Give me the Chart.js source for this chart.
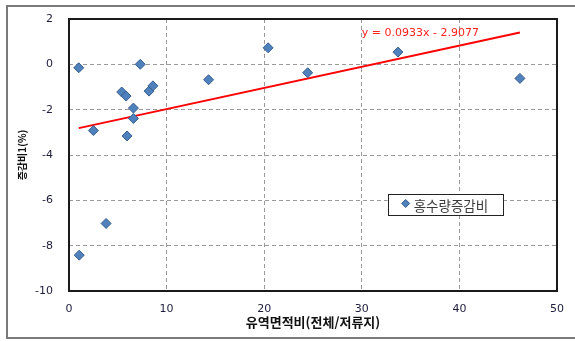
<!DOCTYPE html>
<html>
<head>
<meta charset="utf-8">
<script src="https://cdn.jsdelivr.net/npm/chart.js@4/dist/chart.umd.min.js"></script>
<style>
  html, body { margin: 0; padding: 0; background: #fff; overflow: hidden; }
  #wrap { position: relative; width: 575px; height: 341px; }
  #frame { position: absolute; left: 6px; top: 5px; width: 600px; height: 330px; border: 2px solid #7a7a7a; }
  #c { position: absolute; left: 0; top: 0; }
</style>
</head>
<body>
<div id="wrap">
  <div id="frame"></div>
  <canvas id="c" width="575" height="341"></canvas>
</div>
<script>
// Basin area ratio (whole / reservoir) and flood discharge change ratio (%)
const areaRatio   = [1.0, 7.3, 5.4, 5.85, 8.2, 8.6, 6.6, 6.6, 2.5, 5.95, 3.8, 1.05, 20.4, 14.3, 24.45, 33.7, 46.2];
const floodChange = [-0.15, 0.0, -1.22, -1.40, -1.18, -0.95, -1.93, -2.39, -2.92, -3.16, -7.02, -8.42, 0.73, -0.68, -0.37, 0.54, -0.62];

const xTicks = [0, 10, 20, 30, 40, 50];
const yTicks = [-10, -8, -6, -4, -2, 0, 2];

// Linear trend y = a x + b
const trendSlope = 0.0933;
const trendIntercept = -2.9077;
const trendLabel = 'y = 0.0933x - 2.9077';

const seriesName = '홍수량증감비';
const xTitle = '유역면적비(전체/저류지)';
const yTitle = '증감비1(%)';

const xMinData = Math.min(...areaRatio);
const xMaxData = Math.max(...areaRatio);
const trendPoints = [xMinData, xMaxData].map(x => ({ x, y: trendSlope * x + trendIntercept }));

const MARK_FILL = '#4F81BD';
const MARK_EDGE = '#385D8A';
const TICK_FONT = { family: 'DejaVu Sans', size: 11 };
const TICK_COLOR = '#1c1c3c';
const GRID_COLOR = '#9a9a9a';

// Fixed axis box sizes, no extra label overhang padding
function fixBox(s, size) {
  if (s.isHorizontal()) s.height = size; else s.width = size;
  s.paddingTop = 0; s.paddingBottom = 0; s.paddingLeft = 0; s.paddingRight = 0;
}

// Black frame around the plotting area
const plotFrame = {
  id: 'plotFrame',
  beforeDatasetsDraw(chart) {
    const { ctx, chartArea: a } = chart;
    ctx.save();
    ctx.strokeStyle = '#1a1a1a';
    ctx.lineWidth = 2;
    ctx.strokeRect(a.left, a.top, a.right - a.left, a.bottom - a.top);
    ctx.restore();
  }
};

// Trend equation text and the boxed legend inside the plot
const annotations = {
  id: 'annotations',
  afterDatasetsDraw(chart) {
    const { ctx, scales } = chart;
    ctx.save();
    ctx.font = '11px "DejaVu Sans"';
    ctx.fillStyle = '#ff2020';
    ctx.textAlign = 'left';
    ctx.textBaseline = 'middle';
    ctx.fillText(trendLabel, scales.x.getPixelForValue(30.0), scales.y.getPixelForValue(1.36));

    const lx = scales.x.getPixelForValue(32.65);
    const ly = scales.y.getPixelForValue(-5.72);
    const lw = 115, lh = 21;
    ctx.fillStyle = '#fff';
    ctx.fillRect(lx, ly, lw, lh);
    ctx.strokeStyle = '#222';
    ctx.lineWidth = 1;
    ctx.strokeRect(Math.round(lx) + 0.5, Math.round(ly) + 0.5, lw, lh);
    const mx = lx + 18, my = ly + 9.5, r = 4;
    ctx.beginPath();
    ctx.moveTo(mx, my - r); ctx.lineTo(mx + r, my); ctx.lineTo(mx, my + r); ctx.lineTo(mx - r, my);
    ctx.closePath();
    ctx.fillStyle = MARK_FILL; ctx.fill();
    ctx.strokeStyle = MARK_EDGE; ctx.stroke();
    ctx.font = '13.5px "Noto Sans CJK KR"';
    ctx.fillStyle = '#3a3a3a';
    ctx.textBaseline = 'middle';
    ctx.fillText(seriesName, lx + 26, ly + 11.5);
    ctx.restore();
  }
};

new Chart(document.getElementById('c'), {
  type: 'scatter',
  data: {
    datasets: [
      {
        label: seriesName,
        data: areaRatio.map((x, i) => ({ x, y: floodChange[i] })),
        pointStyle: 'rectRot',
        pointRadius: 5,
        pointHoverRadius: 5,
        backgroundColor: MARK_FILL,
        borderColor: MARK_EDGE,
        borderWidth: 1,
        order: 1
      },
      {
        type: 'line',
        label: 'trend',
        data: trendPoints,
        borderColor: '#ff0000',
        borderWidth: 2,
        pointRadius: 0,
        fill: false,
        order: 2
      }
    ]
  },
  options: {
    responsive: false,
    animation: false,
    events: [],
    layout: { padding: { left: 0, right: 18, top: 19, bottom: 0 } },
    plugins: { legend: { display: false }, tooltip: { enabled: false } },
    scales: {
      x: {
        type: 'linear',
        min: xTicks[0],
        max: xTicks[xTicks.length - 1],
        afterBuildTicks(s) { s.ticks = xTicks.map(v => ({ value: v })); },
        afterFit(s) { fixBox(s, 50); },
        border: { display: false, dash: [4, 3] },
        grid: { color: GRID_COLOR, lineWidth: 1, drawTicks: false },
        ticks: { font: TICK_FONT, color: TICK_COLOR, padding: 12, maxRotation: 0 },
        title: {
          display: true, text: xTitle, color: '#111',
          font: { family: 'Noto Sans CJK KR', size: 13, weight: 'bold' },
          padding: { top: 0, bottom: 11 }
        }
      },
      y: {
        type: 'linear',
        min: yTicks[0],
        max: yTicks[yTicks.length - 1],
        afterBuildTicks(s) { s.ticks = yTicks.map(v => ({ value: v })); },
        afterFit(s) { fixBox(s, 69); },
        border: { display: false, dash: [4, 3] },
        grid: { color: GRID_COLOR, lineWidth: 1, drawTicks: false },
        ticks: { font: TICK_FONT, color: TICK_COLOR, padding: 16 },
        title: {
          display: true, text: yTitle, color: '#111',
          font: { family: 'Noto Sans CJK KR', size: 10, weight: 'bold' },
          padding: { top: 16, bottom: 0 }
        }
      }
    }
  },
  plugins: [plotFrame, annotations]
});
</script>
</body>
</html>
